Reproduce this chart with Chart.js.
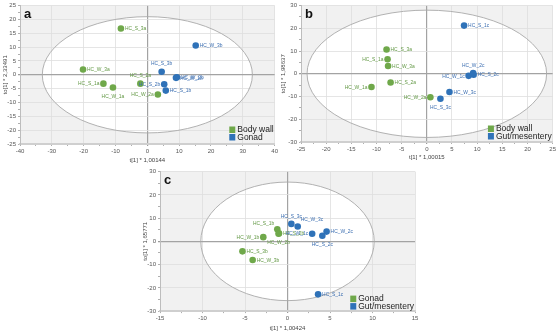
<!DOCTYPE html>
<html><head><meta charset="utf-8">
<script src="https://cdn.jsdelivr.net/npm/chart.js@4/dist/chart.umd.min.js"></script>
<style>
body{margin:0;background:#fff;width:558px;height:332px;position:relative;overflow:hidden}
canvas{position:absolute}
</style>
</head><body>
<canvas id="ca" width="280" height="166" style="left:0;top:0"></canvas>
<canvas id="cb" width="278" height="166" style="left:280px;top:0"></canvas>
<canvas id="cc" width="284" height="166" style="left:138px;top:166px"></canvas>
<script>
// ---------- Panel a ----------
const aGreenName = ['HC_S_1a','HC_W_1a','HC_S_2a','HC_W_2a','HC_S_3a','HC_W_3a'];
const aGreenX = [-13.8,-10.8,-2.2,3.3,-8.3,-20.2];
const aGreenY = [-3.2,-4.6,-3.2,-7.1,16.7,1.9];
const aBlueName = ['HC_S_1b','HC_W_1b','HC_S_2b','HC_W_2b','HC_S_3b','HC_W_3b'];
const aBlueX = [5.8,9.0,5.3,9.3,4.5,15.2];
const aBlueY = [-5.7,-1.1,-3.4,-0.9,1.1,10.6];
const aSeries = ['Body wall','Gonad'];
const aEllipse = [33,21];

// ---------- Panel b ----------
const bGreenName = ['HC_S_1a','HC_W_1a','HC_S_2a','HC_W_2a','HC_S_3a','HC_W_3a'];
const bGreenX = [-7.8,-11.0,-7.2,0.7,-8.0,-7.7];
const bGreenY = [6.4,-5.8,-3.8,-10.3,10.7,3.4];
const bBlueName = ['HC_S_1c','HC_W_1c','HC_S_2c','HC_W_2c','HC_S_3c','HC_W_3c'];
const bBlueX = [7.4,8.3,9.3,9.2,2.7,4.5];
const bBlueY = [21.2,-0.9,-0.4,0.3,-11.0,-8.0];
const bSeries = ['Body wall','Gut/mesentery'];
const bEllipse = [23.8,28];

// ---------- Panel c ----------
const cGreenName = ['HC_S_1b','HC_W_1b','HC_S_2b','HC_W_2b','HC_S_3b','HC_W_3b'];
const cGreenX = [-1.2,-2.85,-1.0,-1.05,-5.3,-4.1];
const cGreenY = [5.2,1.8,3.5,3.3,-4.3,-8.0];
const cBlueName = ['HC_S_1c','HC_W_1c','HC_S_2c','HC_W_2c','HC_S_3c','HC_W_3c'];
const cBlueX = [3.6,2.9,4.1,4.6,0.45,1.2];
const cBlueY = [-22.8,3.25,2.4,4.2,7.5,6.4];
const cSeries = ['Gonad','Gut/mesentery'];
const cEllipse = [10.2,25.5];

// label placement (style)
const aGreenPos = ['l','b','a','l','r','r'];
const aBluePos  = ['r','r','l','r','a','r'];
const bGreenPos = ['l','l','r','l','r','r'];
const bBluePos  = ['r','l','r','a','b','r'];
const cGreenPos = ['al','l','r','b','r','r'];
const cBluePos  = ['r','l','b','r','a','ar'];

const GREEN='#6fa84a', BLUE='#2f72b8', GREEN_T='#5f9640', BLUE_T='#3a6db0';
const FONT='"Liberation Sans", Arial, sans-serif';

const place = {r:[4,0,'left'], l:[-4,0,'right'], a:[0,-8,'center'], b:[0,9,'center'], ar:[3,-7,'left'], al:[-3,-6,'right']};

const pcaPlugin = {
  id:'pca',
  beforeDraw(chart, args, o){
    const {ctx, chartArea:ca, scales:{x,y}} = chart;
    ctx.save();
    ctx.fillStyle='#f1f1f1';
    ctx.fillRect(ca.left, ca.top, ca.right-ca.left, ca.bottom-ca.top);
    const cx=x.getPixelForValue(0), cy=y.getPixelForValue(0);
    const rx=Math.abs(x.getPixelForValue(o.ellipse[0])-cx), ry=Math.abs(y.getPixelForValue(o.ellipse[1])-cy);
    ctx.beginPath(); ctx.ellipse(cx,cy,rx,ry,0,0,Math.PI*2);
    ctx.fillStyle='#ffffff'; ctx.fill();
    ctx.restore();
  },
  beforeDatasetsDraw(chart, args, o){
    const {ctx, scales:{x,y}} = chart;
    const cx=x.getPixelForValue(0), cy=y.getPixelForValue(0);
    const rx=Math.abs(x.getPixelForValue(o.ellipse[0])-cx), ry=Math.abs(y.getPixelForValue(o.ellipse[1])-cy);
    ctx.save();
    ctx.beginPath(); ctx.ellipse(cx,cy,rx,ry,0,0,Math.PI*2);
    ctx.strokeStyle='#a9a9a9'; ctx.lineWidth=0.9; ctx.stroke();
    ctx.restore();
  },
  afterDatasetsDraw(chart, args, o){
    const {ctx, chartArea:ca} = chart;
    ctx.save();
    ctx.font = '6px '+FONT;
    ctx.textBaseline='middle';
    chart.data.datasets.forEach((ds, di)=>{
      const meta = chart.getDatasetMeta(di);
      ctx.fillStyle = ds.textColor;
      meta.data.forEach((pt, i)=>{
        const p = place[ds.pos[i]];
        ctx.save();
        ctx.translate(pt.x+p[0], pt.y+p[1]);
        ctx.scale(0.82,1);
        ctx.textAlign=p[2];
        ctx.fillText(ds.names[i],0,0);
        ctx.restore();
      });
    });
    // panel letter
    ctx.fillStyle='#111';
    ctx.font='bold 13px '+FONT;
    ctx.textAlign='left'; ctx.textBaseline='alphabetic';
    ctx.fillText(o.letter, ca.left+4, ca.top+12.5);
    // legend
    ctx.font='8.5px '+FONT;
    const w = Math.max(...chart.data.datasets.map(d=>ctx.measureText(d.label).width));
    const lx = ca.right - w - 9;
    chart.data.datasets.forEach((ds, di)=>{
      const yc = ca.bottom - o.legBottom - (chart.data.datasets.length-1-di)*7.5;
      ctx.fillStyle = ds.backgroundColor;
      ctx.fillRect(lx, yc-3, 6, 6.5);
      ctx.fillStyle='#222';
      ctx.textBaseline='middle';
      ctx.fillText(ds.label, lx+8, yc+0.5);
    });
    ctx.restore();
  }
};

function axis(min,max,major,title,size,horizontal){
  const isMajor = v => Math.abs(v/major - Math.round(v/major)) < 1e-6;
  return {
    type:'linear', min, max,
    afterFit: s => { if(horizontal) s.height=size; else s.width=size; },
    ticks:{stepSize:major/2, autoSkip:false, maxRotation:0, color:'#555', padding:2,
      font:{size:6, family:FONT},
      callback: v => isMajor(v) ? String(v) : ''},
    grid:{
      color: c => (c.tick && Math.abs(c.tick.value)<1e-9) ? '#a3a3a3' : (c.tick && isMajor(c.tick.value) ? '#dedede' : 'rgba(0,0,0,0)'),
      lineWidth: c => (c.tick && Math.abs(c.tick.value)<1e-9) ? 1.2 : 0.8,
      tickColor:'#9a9a9a', tickLength:2, drawTicks:true
    },
    border:{display:true, color: horizontal ? '#cfcfcf' : '#bdbdbd', width: horizontal ? 2 : 1},
    title:{display:true, text:title, color:'#444', font:{size:6, family:FONT}, padding:{top:0,bottom:0}}
  };
}

function makeChart(id, gName,gX,gY,gPos, bName,bX,bY,bPos, series, ell, letter, xr, yr, xTitle, yTitle, pad, xh, yw, legBottom){
  return new Chart(document.getElementById(id), {
    type:'scatter',
    data:{datasets:[
      {label:series[0], data:gX.map((v,i)=>({x:v,y:gY[i]})), backgroundColor:GREEN, borderColor:GREEN, borderWidth:0, pointRadius:3.3, names:gName, pos:gPos, textColor:GREEN_T},
      {label:series[1], data:bX.map((v,i)=>({x:v,y:bY[i]})), backgroundColor:BLUE, borderColor:BLUE, borderWidth:0, pointRadius:3.3, names:bName, pos:bPos, textColor:BLUE_T}
    ]},
    options:{
      responsive:false, animation:false, devicePixelRatio:1,
      layout:{padding:pad},
      plugins:{legend:{display:false}, tooltip:{enabled:false}, pca:{ellipse:ell, letter, legBottom}},
      scales:{
        x: axis(xr[0],xr[1],xr[2],xTitle,xh,true),
        y: axis(yr[0],yr[1],yr[2],yTitle,yw,false)
      }
    },
    plugins:[pcaPlugin]
  });
}

makeChart('ca', aGreenName,aGreenX,aGreenY,aGreenPos, aBlueName,aBlueX,aBlueY,aBluePos, aSeries, aEllipse, 'a',
  [-40,40,10],[-25,25,5],'t[1] * 1,00144','to[1] * 2,33491', {left:2,right:5,top:3,bottom:2.4}, 19.6, 18, 7);
makeChart('cb', bGreenName,bGreenX,bGreenY,bGreenPos, bBlueName,bBlueX,bBlueY,bBluePos, bSeries, bEllipse, 'b',
  [-25,25,5],[-30,30,10],'t[1] * 1,00015','to[1] * 1,98637', {left:0,right:5,top:3,bottom:5.4}, 18.6, 21, 6);
makeChart('cc', cGreenName,cGreenX,cGreenY,cGreenPos, cBlueName,cBlueX,cBlueY,cBluePos, cSeries, cEllipse, 'c',
  [-15,15,5],[-30,30,10],'t[1] * 1,00424','to[1] * 1,65771', {left:4,right:7,top:4,bottom:0}, 20.9, 18, 5);
</script>
</body></html>
